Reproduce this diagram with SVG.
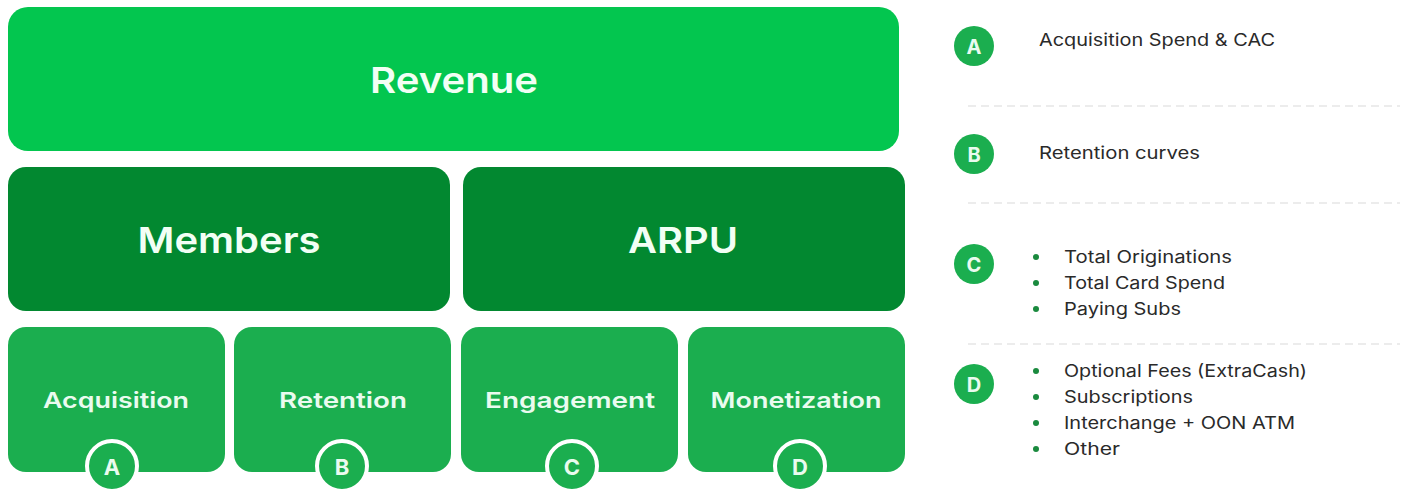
<svg xmlns="http://www.w3.org/2000/svg" width="1410" height="490" viewBox="0 0 1410 490">
<style>
.bg{fill:#ffffff}
.top{fill:#03C64F}
.mid{fill:#028830}
.low{fill:#1BAE4F}
.big{font-family:Inter,"Open Sans",sans-serif;font-weight:600;fill:#F2FFF5;text-anchor:middle;dominant-baseline:central}
.lbl{font-family:Inter,"Open Sans",sans-serif;font-weight:600;font-size:22px;fill:#EAFBEF;text-anchor:middle;dominant-baseline:central}
.badge{fill:#1BAE4F;stroke:#ffffff;stroke-width:4}
.bl{font-family:Inter,"Open Sans",sans-serif;font-weight:700;fill:#EAFBEF;text-anchor:middle;dominant-baseline:central}
.txt{font-family:Inter,"Open Sans",sans-serif;font-size:17px;fill:#2a2a2a;dominant-baseline:central}
.dot{fill:#1a8a3e}
.lg{fill:#1BAE4F}
.sep{stroke:#e6e6e6;stroke-width:1.5;stroke-dasharray:8 5}
</style>
<rect class="bg" width="1410" height="490"/>
<g id="revenue"><rect class="top" x="8" y="7" width="891" height="144" rx="20"/><text class="big" x="454" y="80" font-size="36" textLength="168" lengthAdjust="spacingAndGlyphs">Revenue</text></g>
<g id="members"><rect class="mid" x="8" y="167" width="442" height="144" rx="18"/><text class="big" x="229" y="240" font-size="36" textLength="183" lengthAdjust="spacingAndGlyphs">Members</text></g>
<g id="arpu"><rect class="mid" x="463" y="167" width="442" height="144" rx="18"/><text class="big" x="683" y="240" font-size="36" textLength="110" lengthAdjust="spacingAndGlyphs">ARPU</text></g>
<g id="acquisition"><rect class="low" x="8" y="327" width="217" height="145" rx="18"/><text class="lbl" x="116" y="400" textLength="146" lengthAdjust="spacingAndGlyphs">Acquisition</text></g>
<g id="retention"><rect class="low" x="234" y="327" width="217" height="145" rx="18"/><text class="lbl" x="343" y="400" textLength="128" lengthAdjust="spacingAndGlyphs">Retention</text></g>
<g id="engagement"><rect class="low" x="461" y="327" width="217" height="145" rx="18"/><text class="lbl" x="570" y="400" textLength="170" lengthAdjust="spacingAndGlyphs">Engagement</text></g>
<g id="monetization"><rect class="low" x="688" y="327" width="217" height="145" rx="18"/><text class="lbl" x="796" y="400" textLength="171" lengthAdjust="spacingAndGlyphs">Monetization</text></g>
<g id="badge-a"><circle class="badge" cx="112" cy="466" r="25"/><text class="bl" x="112" y="467" font-size="22">A</text></g>
<g id="badge-b"><circle class="badge" cx="342" cy="466" r="25"/><text class="bl" x="342" y="467" font-size="22">B</text></g>
<g id="badge-c"><circle class="badge" cx="572" cy="466" r="25"/><text class="bl" x="572" y="467" font-size="22">C</text></g>
<g id="badge-d"><circle class="badge" cx="800" cy="466" r="25"/><text class="bl" x="800" y="467" font-size="22">D</text></g>
<g id="connectors">
<line class="sep" x1="968" y1="106" x2="1400" y2="106"/>
<line class="sep" x1="968" y1="203" x2="1400" y2="203"/>
<line class="sep" x1="968" y1="344" x2="1400" y2="344"/>
</g>
<g id="legend-a"><circle class="lg" cx="974" cy="46" r="20"/><text class="bl" x="974" y="47" font-size="20">A</text><text class="txt" x="1039" y="40" textLength="236" lengthAdjust="spacingAndGlyphs">Acquisition Spend &amp; CAC</text></g>
<g id="legend-b"><circle class="lg" cx="974" cy="154" r="20"/><text class="bl" x="974" y="155" font-size="20">B</text><text class="txt" x="1039" y="153" textLength="161" lengthAdjust="spacingAndGlyphs">Retention curves</text></g>
<g id="legend-c"><circle class="lg" cx="974" cy="264" r="20"/><text class="bl" x="974" y="265" font-size="20">C</text>
<circle class="dot" cx="1036" cy="257" r="3"/><circle class="dot" cx="1036" cy="283" r="3"/><circle class="dot" cx="1036" cy="309" r="3"/>
<text class="txt" x="1064" y="257" textLength="168" lengthAdjust="spacingAndGlyphs">Total Originations</text><text class="txt" x="1064" y="283" textLength="161" lengthAdjust="spacingAndGlyphs">Total Card Spend</text><text class="txt" x="1064" y="309" textLength="117" lengthAdjust="spacingAndGlyphs">Paying Subs</text></g>
<g id="legend-d"><circle class="lg" cx="974" cy="384" r="20"/><text class="bl" x="974" y="385" font-size="20">D</text>
<circle class="dot" cx="1036" cy="371" r="3"/><circle class="dot" cx="1036" cy="397" r="3"/><circle class="dot" cx="1036" cy="423" r="3"/><circle class="dot" cx="1036" cy="449" r="3"/>
<text class="txt" x="1064" y="371" textLength="243" lengthAdjust="spacingAndGlyphs">Optional Fees (ExtraCash)</text><text class="txt" x="1064" y="397" textLength="129" lengthAdjust="spacingAndGlyphs">Subscriptions</text><text class="txt" x="1064" y="423" textLength="231" lengthAdjust="spacingAndGlyphs">Interchange + OON ATM</text><text class="txt" x="1064" y="449" textLength="56" lengthAdjust="spacingAndGlyphs">Other</text></g>
</svg>
